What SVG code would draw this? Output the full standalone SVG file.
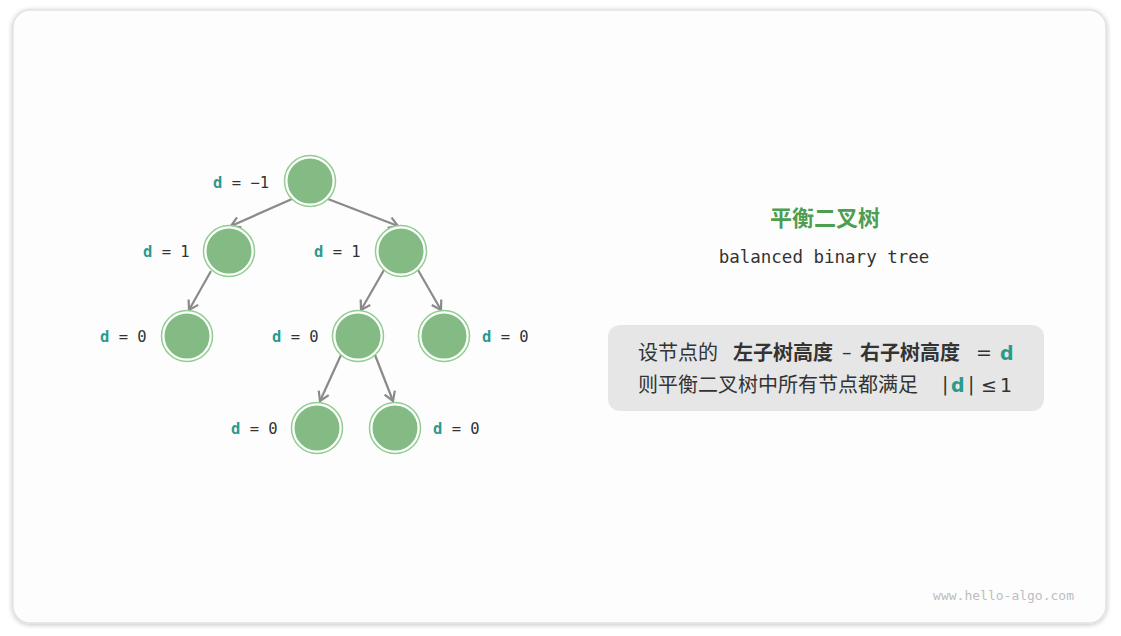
<svg xmlns="http://www.w3.org/2000/svg" width="1121" height="636" viewBox="0 0 1121 636">
<defs>
<filter id="sh" x="-5%" y="-5%" width="110%" height="110%">
<feGaussianBlur in="SourceAlpha" stdDeviation="2.5"/>
<feOffset dx="0" dy="1" result="b"/>
<feComponentTransfer><feFuncA type="linear" slope="0.25"/></feComponentTransfer>
<feMerge><feMergeNode/><feMergeNode in="SourceGraphic"/></feMerge>
</filter>
<marker id="ah" viewBox="-11 -7 13 14" markerWidth="13" markerHeight="14" refX="0" refY="0" orient="auto" markerUnits="userSpaceOnUse">
<path d="M-9,-5.5 L0,0 L-9,5.5" fill="none" stroke="#8a8a8a" stroke-width="2.2" stroke-linejoin="miter"/>
</marker>
</defs>
<style>
.ring{fill:none;stroke:#8fce8f;stroke-width:1.5}
.node{fill:#84bb84;stroke:#ffffff;stroke-width:3}
.edge{stroke:#8a8a8a;stroke-width:2.2;fill:none;marker-end:url(#ah)}
.lbl{font-family:"DejaVu Sans Mono","Liberation Mono",monospace;font-size:15.5px;fill:#333}
.d{font-weight:bold;fill:#299a8c}
.cjk{font-family:"Noto Sans CJK SC","Noto Sans",sans-serif;font-size:20px;fill:#333}
.sym{font-family:"DejaVu Sans","Noto Sans",sans-serif;font-size:19px;fill:#333}
.b{font-weight:bold}
.teal{fill:#299a8c}
</style>
<rect width="1121" height="636" fill="#ffffff"/>
<rect x="13" y="10" width="1093" height="613" rx="17" fill="#fdfdfd" stroke="#e2e2e2" stroke-width="1.5" filter="url(#sh)"/>

<g id="connectors">
<line class="edge" x1="292" y1="199" x2="231" y2="226"/>
<line class="edge" x1="328" y1="199" x2="398" y2="226"/>
<line class="edge" x1="211" y1="271" x2="189" y2="310"/>
<line class="edge" x1="384" y1="270" x2="361" y2="310"/>
<line class="edge" x1="418" y1="270" x2="441" y2="310"/>
<line class="edge" x1="341" y1="355" x2="320" y2="401"/>
<line class="edge" x1="375" y1="355" x2="393" y2="401"/>
</g>

<g id="n_root"><circle class="node" cx="310" cy="181" r="24"/><circle class="ring" cx="310" cy="181" r="25.5"/>
<text class="lbl" x="213" y="188"><tspan class="d">d</tspan> = −1</text></g>
<g id="n_l"><circle class="node" cx="229" cy="251" r="24"/><circle class="ring" cx="229" cy="251" r="25.5"/>
<text class="lbl" x="143" y="257"><tspan class="d">d</tspan> = 1</text></g>
<g id="n_r"><circle class="node" cx="401" cy="251" r="24"/><circle class="ring" cx="401" cy="251" r="25.5"/>
<text class="lbl" x="314" y="257"><tspan class="d">d</tspan> = 1</text></g>
<g id="n_ll"><circle class="node" cx="187" cy="336" r="24"/><circle class="ring" cx="187" cy="336" r="25.5"/>
<text class="lbl" x="100" y="342"><tspan class="d">d</tspan> = 0</text></g>
<g id="n_rl"><circle class="node" cx="358" cy="336" r="24"/><circle class="ring" cx="358" cy="336" r="25.5"/>
<text class="lbl" x="272" y="342"><tspan class="d">d</tspan> = 0</text></g>
<g id="n_rr"><circle class="node" cx="444" cy="336" r="24"/><circle class="ring" cx="444" cy="336" r="25.5"/>
<text class="lbl" x="482" y="342"><tspan class="d">d</tspan> = 0</text></g>
<g id="n_rll"><circle class="node" cx="317" cy="428" r="24"/><circle class="ring" cx="317" cy="428" r="25.5"/>
<text class="lbl" x="231" y="434"><tspan class="d">d</tspan> = 0</text></g>
<g id="n_rlr"><circle class="node" cx="395" cy="428" r="24"/><circle class="ring" cx="395" cy="428" r="25.5"/>
<text class="lbl" x="433" y="434"><tspan class="d">d</tspan> = 0</text></g>

<g id="title">
<text x="825" y="226" text-anchor="middle" font-family="Noto Sans CJK SC,sans-serif" font-size="22" font-weight="bold" fill="#4d9e50">平衡二叉树</text>
<text x="824" y="263" text-anchor="middle" font-family="DejaVu Sans Mono,monospace" font-size="17.5" fill="#333">balanced binary tree</text>
</g>

<g id="note">
<rect x="608" y="325" width="436" height="86" rx="12" fill="#e6e6e6"/>
<text class="cjk" x="638" y="360">设节点的</text>
<text class="cjk b" x="733" y="360">左子树高度</text>
<text class="sym" x="842" y="359">–</text>
<text class="cjk b" x="860" y="360">右子树高度</text>
<text class="sym" x="976" y="359">=</text>
<text class="sym b teal" x="1000" y="360">d</text>
<text class="cjk" x="638" y="392">则平衡二叉树中所有节点都满足</text>
<text class="sym" x="942" y="391">|</text>
<text class="sym b teal" x="951" y="392">d</text>
<text class="sym" x="968" y="391">|</text>
<text class="sym" x="981" y="392">≤</text>
<text class="sym" x="1000" y="392">1</text>
</g>

<text x="1074" y="600" text-anchor="end" font-family="DejaVu Sans Mono,monospace" font-size="13" fill="#bdbdbd">www.hello-algo.com</text>
</svg>
